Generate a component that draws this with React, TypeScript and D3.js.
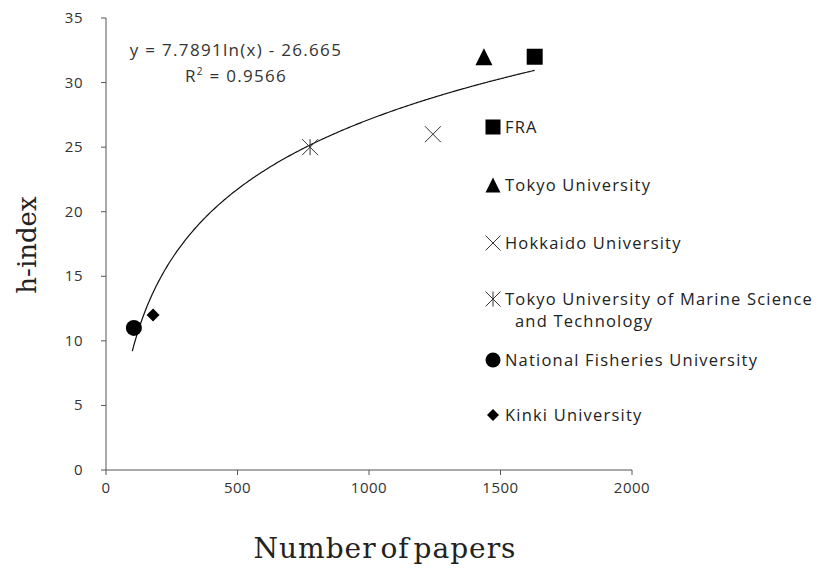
import React from "react";
import * as d3 from "d3";

const institutions = [
  "FRA",
  "Tokyo University",
  "Hokkaido University",
  "Tokyo University of Marine Science and Technology",
  "National Fisheries University",
  "Kinki University",
];
const papers = [1630, 1437, 1243, 776, 106, 179];
const hIndex = [32, 32, 26, 25, 11, 12];
const symbols = ["square", "triangle", "cross", "asterisk", "circle", "diamond"];
const legendLines = [
  ["FRA"],
  ["Tokyo University"],
  ["Hokkaido University"],
  ["Tokyo University of Marine Science", "and Technology"],
  ["National Fisheries University"],
  ["Kinki University"],
];
const xTicks = [0, 500, 1000, 1500, 2000];
const yTicks = [0, 5, 10, 15, 20, 25, 30, 35];
const fitA = 7.7891;
const fitB = -26.665;
const fitRange = [100, 1630];

const W = 827;
const H = 570;
const SANS = "'Open Sans', 'DejaVu Sans', sans-serif";
const SERIF = "'DejaVu Serif', 'Liberation Serif', serif";

function Marker({ type, x, y, s }: { type: string; x: number; y: number; s: number }) {
  const h = s / 2;
  switch (type) {
    case "square":
      return <rect x={x - h} y={y - h} width={s} height={s} fill="#000" />;
    case "triangle":
      return <path d={`M${x},${y - h} L${x + h},${y + h} L${x - h},${y + h} Z`} fill="#000" />;
    case "cross":
      return (
        <path
          d={`M${x - h},${y - h} L${x + h},${y + h} M${x + h},${y - h} L${x - h},${y + h}`}
          stroke="#333"
          strokeWidth={1}
          fill="none"
        />
      );
    case "asterisk":
      return (
        <path
          d={`M${x - h},${y - h} L${x + h},${y + h} M${x + h},${y - h} L${x - h},${y + h} M${x},${y - h} L${x},${y + h}`}
          stroke="#333"
          strokeWidth={1}
          fill="none"
        />
      );
    case "circle":
      return <circle cx={x} cy={y} r={h} fill="#000" />;
    case "diamond":
      return <path d={`M${x},${y - h} L${x + h},${y} L${x},${y + h} L${x - h},${y} Z`} fill="#000" />;
    default:
      return null;
  }
}

export default function App() {
  const x = d3.scaleLinear().domain([0, 2000]).range([106, 632]);
  const y = d3.scaleLinear().domain([0, 35]).range([470, 18]);

  const fitPts = d3.range(fitRange[0], fitRange[1] + 1, 5).map((v) => [v, fitA * Math.log(v) + fitB] as [number, number]);
  const line = d3
    .line<[number, number]>()
    .x((d) => x(d[0]))
    .y((d) => y(d[1]))
    .curve(d3.curveLinear);

  const markerSizes: Record<string, number> = {
    square: 16,
    triangle: 17,
    cross: 16,
    asterisk: 16,
    circle: 16,
    diamond: 13,
  };

  const legendY = [127, 185, 243, 299, 360, 415];

  return (
    <svg
      width={W}
      height={H}
      style={{ position: "absolute", left: 0, top: 0, background: "#fff" }}
    >
      {/* axes */}
      <line x1={x(0)} x2={x(2000)} y1={y(0)} y2={y(0)} stroke="#555" strokeWidth={1} />
      <line x1={x(0)} x2={x(0)} y1={y(0)} y2={y(35)} stroke="#555" strokeWidth={1} />
      {xTicks.map((t) => (
        <g key={"xt" + t}>
          <line x1={x(t)} x2={x(t)} y1={y(0)} y2={y(0) + 5} stroke="#555" />
          <text x={x(t)} y={493} textAnchor="middle" fontFamily={SANS} fontSize={15} fill="#333" letterSpacing={0.5}>
            {t}
          </text>
        </g>
      ))}
      {yTicks.map((t) => (
        <g key={"yt" + t}>
          <line x1={x(0) - 5} x2={x(0)} y1={y(t)} y2={y(t)} stroke="#555" />
          <text x={83} y={y(t) + 5} textAnchor="end" fontFamily={SANS} fontSize={15} fill="#333" letterSpacing={0.5}>
            {t}
          </text>
        </g>
      ))}

      {/* trendline */}
      <path d={line(fitPts) || ""} fill="none" stroke="#111" strokeWidth={1.2} />

      {/* points */}
      {papers.map((p, i) => (
        <Marker key={"m" + i} type={symbols[i]} x={x(p)} y={y(hIndex[i])} s={markerSizes[symbols[i]]} />
      ))}

      {/* equation */}
      <text x={236} y={56} textAnchor="middle" fontFamily={SANS} fontSize={17} fill="#333" letterSpacing={1.3}>
        y = 7.7891ln(x) - 26.665
      </text>
      <text x={236} y={82} textAnchor="middle" fontFamily={SANS} fontSize={17} fill="#333" letterSpacing={1.3}>
        R<tspan dy={-7} fontSize={10}>2</tspan>
        <tspan dy={7}> = 0.9566</tspan>
      </text>

      {/* legend */}
      {institutions.map((name, i) => (
        <g key={"lg" + i}>
          <Marker type={symbols[i]} x={493} y={legendY[i]} s={symbols[i] === "diamond" ? 12 : 15} />
          {legendLines[i].map((ln, j) => (
            <text
              key={j}
              x={j === 0 ? 505 : 515}
              y={legendY[i] + 6 + j * 22}
              fontFamily={SANS}
              fontSize={16.5}
              fill="#222"
              letterSpacing={1.2}
            >
              {ln}
            </text>
          ))}
        </g>
      ))}

      {/* axis titles */}
      <text
        x={385}
        y={558}
        textAnchor="middle"
        fontFamily={SERIF}
        fontSize={28}
        fill="#222"
        letterSpacing={1}
        wordSpacing={-6}
      >
        Number of papers
      </text>
      <text
        transform={`translate(36,245) rotate(-90)`}
        textAnchor="middle"
        fontFamily={SERIF}
        fontSize={26}
        fill="#222"
      >
        h-index
      </text>
    </svg>
  );
}
